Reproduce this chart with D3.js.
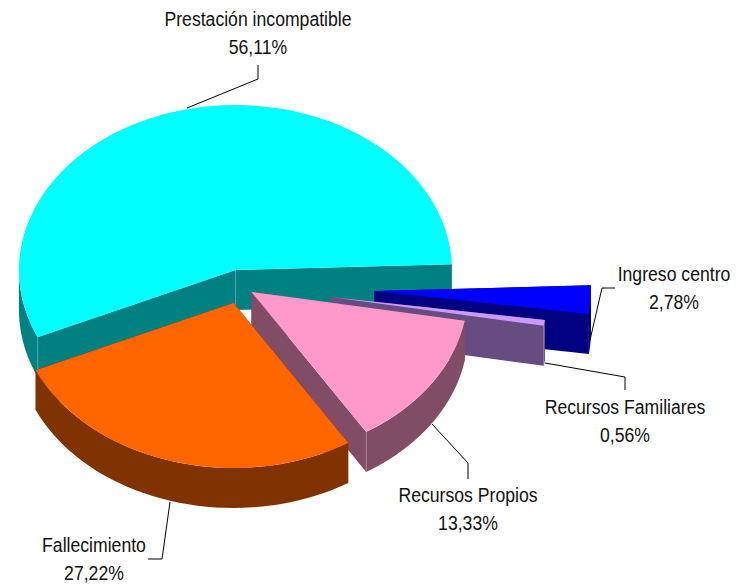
<!DOCTYPE html>
<html lang="en">
<head>
    <meta charset="UTF-8">
    <title>Pie 3D</title>
    <script src="https://d3js.org/d3.v7.min.js"></script>
    <style>
        body { margin: 0; background: #fff; }
        text { font-family: "Liberation Sans", sans-serif; font-size: 21px; fill: #111; }
    </style>
</head>
<body>
    <div id="chart"></div>

    <script>
        // Data, clockwise from the right edge of the pie
        const categories = ["Ingreso centro", "Recursos Familiares", "Recursos Propios", "Fallecimiento", "Prestación incompatible"];
        const values = [2.78, 0.56, 13.33, 27.22, 56.11];
        const valueLabels = ["2,78%", "0,56%", "13,33%", "27,22%", "56,11%"];

        // Styles
        const topColors = ["#0000ff", "#cc99ff", "#ff99cc", "#ff6600", "#00ffff"];
        const sideColors = ["#000080", "#664c80", "#804c66", "#803300", "#008080"];
        const edgeColors = ["#000080", "#8f7aa6", "#a37f90", "#803300", "#4da6a6"];

        // Layout of the exploded slices and the labels
        const centers = [[374.5, 291], [330.5, 297], [251.5, 292], [233.5, 303], [235.5, 270]];
        const labelPos = [[674, 281], [625, 414], [468, 502], [94, 552], [258, 26]];
        const leaders = [
            [[590, 340], [602, 288], [615, 288]],
            [[545, 363], [625, 377], [625, 390]],
            [[432, 424], [468, 463], [468, 479]],
            [[170, 502], [162, 559], [148, 559]],
            [[187, 108], [258, 79], [258, 65]]
        ];

        const width = 736, height = 585;
        const rx = 216.5, ry = 165, depth = 40;
        const rad = Math.PI / 180;
        const narrow = 0.84; // no Arial Narrow here, squeeze Liberation Sans

        const svg = d3.select("#chart")
            .append("svg")
            .attr("width", width)
            .attr("height", height);

        const slices = d3.pie()
            .sort(null)
            .startAngle(88 * rad)
            .endAngle(448 * rad)(values);

        const arc = d3.arc().innerRadius(0).outerRadius(1);
        const line = d3.line();

        // point on the rim of a slice, dy pushes it down to the bottom face
        const rim = (c, a, dy) => [c[0] + rx * Math.sin(a), c[1] - ry * Math.cos(a) + dy];

        // only the near half of the rim can be seen
        function sideRanges(a0, a1) {
            const out = [];
            [[90, 270], [450, 630]].forEach(r => {
                const s = Math.max(a0, r[0] * rad), e = Math.min(a1, r[1] * rad);
                if (e > s) out.push([s, e]);
            });
            return out;
        }

        // back to front
        const order = [4, 0, 1, 2, 3];

        order.forEach(i => {
            const d = slices[i], c = centers[i];
            const g = svg.append("g");

            // the two cut walls
            [d.startAngle, d.endAngle].forEach(a => {
                g.append("path")
                    .attr("d", line([c, rim(c, a, 0), rim(c, a, depth), [c[0], c[1] + depth]]) + "Z")
                    .attr("fill", sideColors[i]);
            });

            // outer rim
            sideRanges(d.startAngle, d.endAngle).forEach(r => {
                const steps = d3.range(0, 41).map(k => r[0] + (r[1] - r[0]) * k / 40);
                const pts = steps.map(a => rim(c, a, 0))
                    .concat(steps.slice().reverse().map(a => rim(c, a, depth)));
                g.append("path")
                    .attr("d", line(pts) + "Z")
                    .attr("fill", sideColors[i]);
            });

            // light vertical edges on the corners
            if (i === 4) {
                [rim(c, d.startAngle, 0), c].forEach(p => {
                    g.append("path")
                        .attr("d", line([p, [p[0], p[1] + depth]]))
                        .attr("stroke", edgeColors[i])
                        .attr("fill", "none");
                });
            } else if (i === 1 || i === 2) {
                g.append("path")
                    .attr("d", line([rim(c, d.endAngle, 0), rim(c, d.endAngle, depth)]))
                    .attr("stroke", edgeColors[i])
                    .attr("fill", "none");
            }

            // top face
            g.append("path")
                .attr("transform", `translate(${c[0]},${c[1]}) scale(${rx},${ry})`)
                .attr("d", arc(d))
                .attr("fill", topColors[i]);
        });

        // Leader lines
        svg.selectAll(".leader")
            .data(leaders)
            .enter()
            .append("path")
            .attr("class", "leader")
            .attr("d", d => line(d))
            .attr("fill", "none")
            .attr("stroke", "#000")
            .attr("stroke-width", 1);

        // Labels
        categories.forEach((name, i) => {
            const t = svg.append("text")
                .attr("transform", `translate(${labelPos[i][0]},${labelPos[i][1]}) scale(${narrow},1)`)
                .attr("text-anchor", "middle");
            t.append("tspan").attr("x", 0).text(name);
            t.append("tspan")
                .attr("x", 0)
                .attr("dy", 28)
                .text(valueLabels[i]);
        });
    </script>
</body>
</html>
